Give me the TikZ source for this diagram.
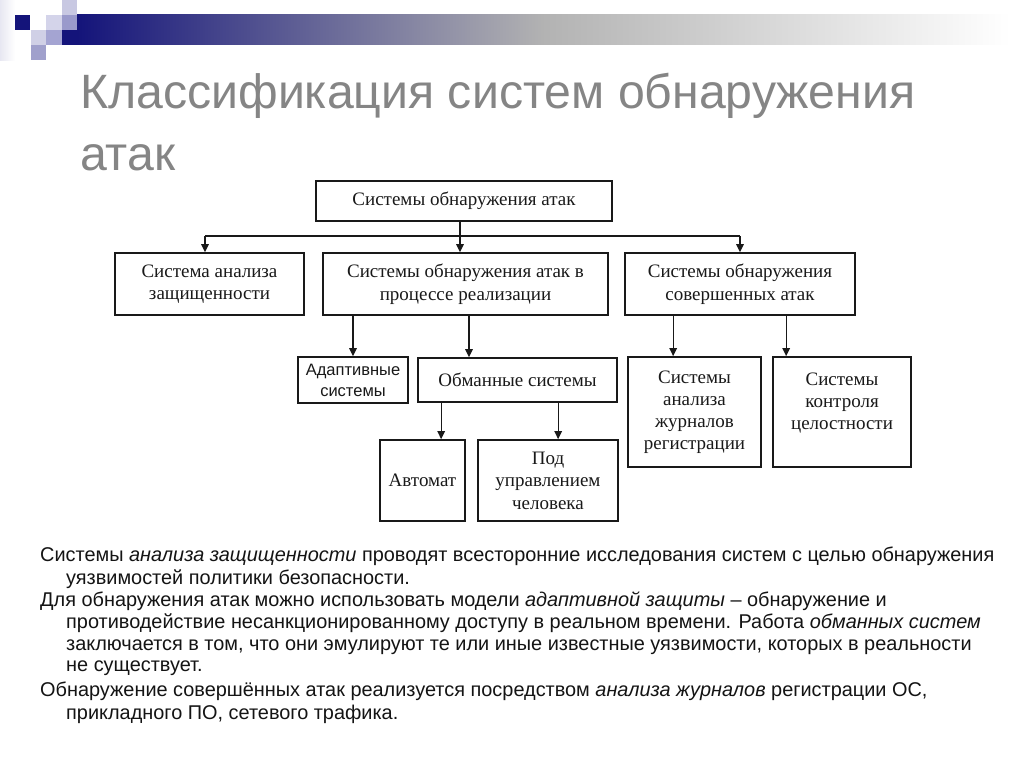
\documentclass[tikz,border=0pt]{standalone}
\usepackage{fontspec}
\setmainfont{Liberation Sans}
\newfontfamily\dfont{Liberation Serif}
\newfontfamily\afont{Liberation Sans}
\usetikzlibrary{arrows.meta}
\definecolor{navy}{HTML}{14147A}
\definecolor{titlegray}{HTML}{858585}
\definecolor{sqa}{HTML}{D4D4EA}
\definecolor{sqb}{HTML}{C8C8E2}
\definecolor{sqc}{HTML}{9A9ACB}
\definecolor{sqd}{HTML}{D0D0E6}
\definecolor{sqe}{HTML}{A4A4D2}
\definecolor{sqf}{HTML}{A0A0CC}
\begin{document}
\begin{tikzpicture}[x=1pt,y=-1pt,
  box/.style={draw=black!90, line width=1.7pt, font=\dfont\fontsize{19}{22.5}\selectfont, align=center, inner sep=0pt, text=black!90},
  arr/.style={line width=1.3pt, black!90, -{Triangle[length=8pt,width=7.5pt]}},
  conn/.style={line width=1.3pt, black!90},
  body/.style={anchor=base west, inner sep=0pt, font=\fontsize{19.9}{22}\selectfont, text=black!92},
  ttl/.style={anchor=base west, inner sep=0pt, font=\fontsize{48.2}{62}\selectfont, text=titlegray}]
\useasboundingbox (0,0) rectangle (1024,768);
\fill[white] (0,0) rectangle (1024,768);
% decoration
\shade[left color=white!90!navy, right color=white] (0,0) rectangle (15,60);
\shade[left color=navy, right color=white, middle color=black!30!white] (77,15) rectangle (1010,45);
\fill[navy] (62,30) rectangle (77,45);
\fill[navy] (15,15) rectangle (30,30);
\fill[sqa] (46,15) rectangle (62,30);
\fill[sqb] (62,0) rectangle (77,15);
\fill[sqc] (62,15) rectangle (77,30);
\fill[sqd] (31,30) rectangle (46,45);
\fill[sqe] (46,30) rectangle (62,45);
\fill[sqf] (31,45) rectangle (46,60);
% title
\node[ttl] (t1) at (80,108) {Классификация систем обнаружения};
\node[ttl] (t2) at (80,170) {атак};
% boxes
\node[box, minimum width=296pt, minimum height=40pt] (top) at (464,201) {Системы обнаружения атак};
\node[box, minimum width=189pt, minimum height=62pt] (A) at (209.5,284) {Система анализа\\защищенности};
\node[box, minimum width=285pt, minimum height=62pt] (B) at (465.5,284) {Системы обнаружения атак в\\процессе реализации};
\node[box, minimum width=230pt, minimum height=62pt] (C) at (740,284) {Системы обнаружения\\совершенных атак};
\node[box, minimum width=110pt, minimum height=46pt, font=\afont\fontsize{16.5}{21}\selectfont] (ad) at (353,380) {Адаптивные\\системы};
\node[box, minimum width=199pt, minimum height=44pt] (ob) at (517.5,380) {Обманные системы};
\node[box, minimum width=85pt, minimum height=81pt] (avt) at (422.5,480.5) {Автомат};
\node[box, minimum width=140pt, minimum height=81pt] (pod) at (548,480.5) {Под\\управлением\\человека};
\node[box, minimum width=133pt, minimum height=110pt, font=\dfont\fontsize{19}{22}\selectfont] (jr) at (694.5,412) {Системы\\анализа\\журналов\\регистрации};
\node[box, minimum width=138pt, minimum height=110pt, font=\dfont\fontsize{19}{22}\selectfont] (ct) at (842,412) {Системы\\контроля\\целостности\\\mbox{}};
% connectors
\coordinate (bus) at (460,236);
\coordinate (busL) at (205,236);
\coordinate (busR) at (740,236);
\draw[conn] (bus |- top.south) -- (bus);
\draw[conn] (busL) -- (busR);
\draw[arr] (bus) -- (bus |- B.north);
\draw[arr] (busL) -- (busL |- A.north);
\draw[arr] (busR) -- (busR |- C.north);
\draw[arr] (ad |- B.south) -- (ad.north);
\draw[arr] ([xshift=3.5pt]B.south) -- ([xshift=3.5pt]B.south |- ob.north);
\draw[arr] ([xshift=24pt]ob.south west) -- ([xshift=24pt]ob.south west |- avt.north);
\draw[arr] ([xshift=141pt]ob.south west) -- ([xshift=141pt]ob.south west |- pod.north);
\draw[arr] ([xshift=49pt]C.south west) -- ([xshift=49pt]C.south west |- jr.north);
\draw[arr] ([xshift=162pt]C.south west) -- ([xshift=162pt]C.south west |- ct.north);
% body text
\node[body] (l1) at (40,561) {Системы \textit{анализа защищенности} проводят всесторонние исследования систем с целью обнаружения};
\node[body] (l2) at (66,584) {уязвимостей политики безопасности.};
\node[body] (l3) at (40,606) {Для обнаружения атак можно использовать модели \textit{адаптивной защиты} – обнаружение и};
\node[body] (l4) at (66,628) {противодействие несанкционированному доступу в реальном времени. Работа \textit{обманных систем}};
\node[body] (l5) at (66,650) {заключается в том, что они эмулируют те или иные известные уязвимости, которых в реальности};
\node[body] (l6) at (66,671) {не существует.};
\node[body] (l7) at (40,696) {Обнаружение совершённых атак реализуется посредством \textit{анализа журналов} регистрации ОС,};
\node[body] (l8) at (66,719) {прикладного ПО, сетевого трафика.};
\end{tikzpicture}
\end{document}
